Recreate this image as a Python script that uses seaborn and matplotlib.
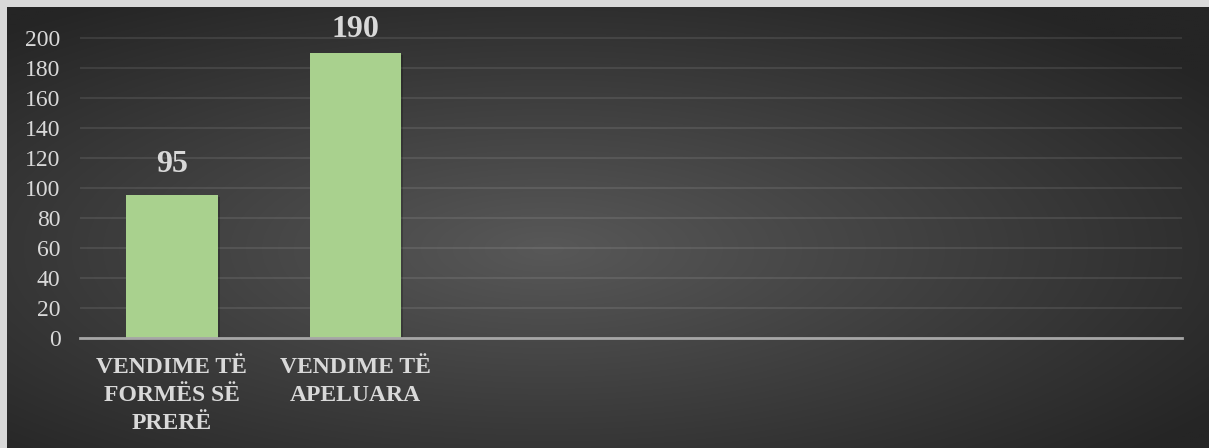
# Bar chart: vendime (court decisions) - dark gradient background
import numpy as np
import pandas as pd
import matplotlib
matplotlib.use("Agg")
import matplotlib.pyplot as plt
import matplotlib.patheffects as pe
import seaborn as sns

# data
categories = ["VENDIME TË\nFORMËS SË\nPRERË", "VENDIME TË\nAPELUARA", "", " ", "  ", "   "]
shown = ["VENDIME TË\nFORMËS SË\nPRERË", "VENDIME TË\nAPELUARA"]
values = [95, 190]
yticks = [0, 20, 40, 60, 80, 100, 120, 140, 160, 180, 200]

df = pd.DataFrame({"kategoria": shown, "vlera": values})

sns.set_theme(style="dark")
plt.rcParams["font.family"] = ["Liberation Serif", "DejaVu Serif"]

text_col = "#d9d9d9"
bar_col = "#a9d18e"

fig = plt.figure(figsize=(12.09, 4.48), dpi=100)
fig.patch.set_facecolor("#d9d9d9")

# radial gradient background (gray frame on top and left)
bg = fig.add_axes([7 / 1209, 0, 1 - 7 / 1209, 1 - 7 / 448])
gx, gy = np.meshgrid(np.linspace(-1, 1, 600), np.linspace(-1, 1, 250))
r = np.sqrt((gx + 0.1) ** 2 + (gy + 0.1) ** 2)
r = np.clip(r / 1.35, 0, 1)
c0 = np.array([0x58, 0x58, 0x58]) / 255
c1 = np.array([0x25, 0x25, 0x25]) / 255
img = c0[None, None, :] * (1 - r[..., None]) + c1[None, None, :] * r[..., None]
bg.imshow(img, aspect="auto", extent=[0, 1, 0, 1], interpolation="bilinear", origin="lower")
bg.set_axis_off()

ax = fig.add_axes([80 / 1209, 110 / 448, (1182 - 80) / 1209, (412 - 110) / 448])
ax.set_facecolor("none")

sns.barplot(data=df, x="kategoria", y="vlera", order=categories,
            color=bar_col, saturation=1, width=0.5, ax=ax, zorder=3)

for p in ax.patches:
    p.set_edgecolor("none")
    p.set_path_effects([pe.SimplePatchShadow(offset=(1.5, -1.5), shadow_rgbFace="black", alpha=0.2),
                        pe.Normal()])

# value labels
label_pad = [12, 6]
for p, v, pad in zip(ax.patches, values, label_pad):
    ax.annotate(str(v), (p.get_x() + p.get_width() / 2, p.get_height()),
                xytext=(0, pad), textcoords="offset points",
                ha="center", va="bottom", fontsize=23, fontweight="bold", color=text_col)

ax.set_ylim(0, 201)
ax.set_yticks(yticks)
ax.set_yticklabels([str(t) for t in yticks])
ax.set_xlim(-0.5, len(categories) - 0.5)

ax.grid(axis="y", color="white", alpha=0.09, linewidth=1.5, zorder=0)
ax.grid(axis="x", visible=False)
for s in ["top", "right", "left"]:
    ax.spines[s].set_visible(False)
ax.spines["bottom"].set_color("#a6a6a6")
ax.spines["bottom"].set_linewidth(2)
ax.spines["bottom"].set_zorder(4)

ax.tick_params(axis="y", length=0, pad=14, labelsize=17, labelcolor=text_col)
ax.tick_params(axis="x", length=0, pad=14, labelsize=17, labelcolor=text_col)
for lab in ax.get_xticklabels():
    lab.set_fontweight("bold")
    lab.set_linespacing(1.42)

ax.set_xlabel("")
ax.set_ylabel("")

fig.savefig("out.png", dpi=100)
